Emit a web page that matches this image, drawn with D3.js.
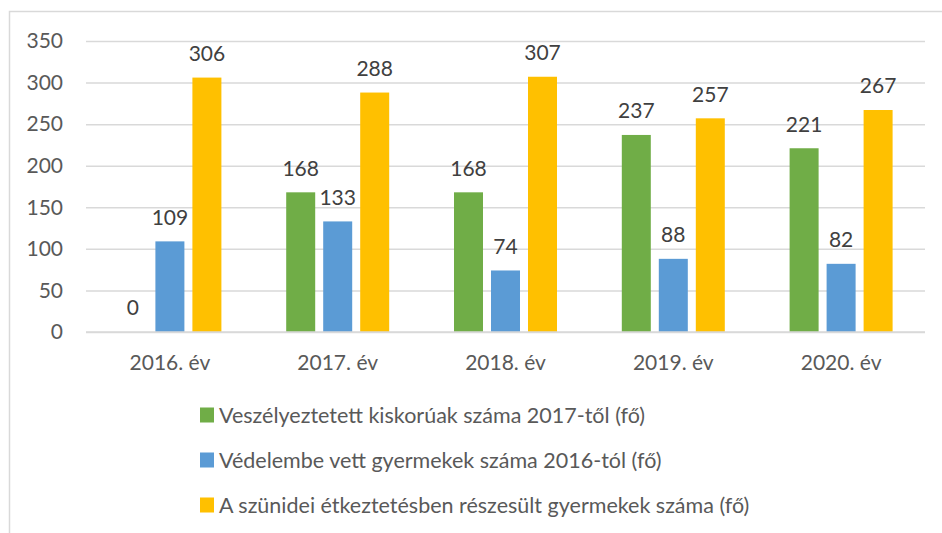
<!DOCTYPE html>
<html>
<head>
<meta charset="utf-8">
<script src="https://cdn.jsdelivr.net/npm/d3@7"></script>
<style>
  html, body { margin: 0; padding: 0; background: #fff; }
  svg { display: block; font-family: Lato, "Open Sans", sans-serif; }
</style>
</head>
<body>
<svg id="chart" width="942" height="533"></svg>
<script>
// Évek (kategóriák)
const categories = ["2016. év", "2017. év", "2018. év", "2019. év", "2020. év"];

// Adatsorok
const seriesNames = [
  "Veszélyeztetett kiskorúak száma 2017-től (fő)",
  "Védelembe vett gyermekek száma 2016-tól (fő)",
  "A szünidei étkeztetésben részesült gyermekek száma (fő)"
];
const veszelyeztetett = [0, 168, 168, 237, 221];
const vedelembe = [109, 133, 74, 88, 82];
const szunidei = [306, 288, 307, 257, 267];
const seriesColors = ["#70ad47", "#5b9bd5", "#ffc000"];

const yTicks = [0, 50, 100, 150, 200, 250, 300, 350];

const seriesValues = [veszelyeztetett, vedelembe, szunidei];

const svg = d3.select("#chart");

// Diagram kerete
svg.append("rect")
  .attr("x", 9.5).attr("y", 11.5)
  .attr("width", 960).attr("height", 560)
  .attr("fill", "none")
  .attr("stroke", "#d9d9d9")
  .attr("stroke-width", 1.5);

const plot = { left: 86, right: 925, top: 41, bottom: 332 };

const x0 = d3.scaleBand()
  .domain(categories)
  .range([plot.left, plot.right])
  .paddingInner(0).paddingOuter(0);

const bw = x0.bandwidth();
const groupW = 103;
const x1 = d3.scaleBand()
  .domain(d3.range(seriesValues.length))
  .range([(bw - groupW) / 2, (bw + groupW) / 2])
  .paddingInner(8 / 37)
  .paddingOuter(0);

const y = d3.scaleLinear()
  .domain([0, 350])
  .range([plot.bottom, plot.top]);

// Rácsvonalak és y tengely feliratai
const yAxis = d3.axisLeft(y)
  .tickValues(yTicks)
  .tickSize(-(plot.right - plot.left))
  .tickPadding(23)
  .tickFormat(d3.format("d"));

const gy = svg.append("g")
  .attr("transform", `translate(${plot.left},0)`)
  .call(yAxis);
gy.select(".domain").remove();
gy.selectAll(".tick line")
  .attr("stroke", "#d9d9d9")
  .attr("stroke-width", 1.5);
gy.selectAll(".tick text")
  .attr("fill", "#595959")
  .style("font-size", "21px")
  .style("font-family", "Lato, 'Open Sans', sans-serif");

// Oszlopok
const groups = svg.append("g").selectAll("g")
  .data(categories)
  .join("g")
  .attr("transform", d => `translate(${x0(d)},0)`);

groups.selectAll("rect")
  .data((c, i) => seriesValues.map((vals, s) => ({ s, v: vals[i] })))
  .join("rect")
  .attr("x", d => x1(d.s))
  .attr("width", x1.bandwidth())
  .attr("y", d => y(d.v))
  .attr("height", d => y(0) - y(d.v))
  .attr("fill", d => seriesColors[d.s]);

// Adatfeliratok
groups.selectAll("text.val")
  .data((c, i) => seriesValues.map((vals, s) => ({ s, v: vals[i] })))
  .join("text")
  .attr("class", "val")
  .attr("x", d => x1(d.s) + x1.bandwidth() / 2)
  .attr("y", d => y(d.v) - 24)
  .attr("dy", "0.35em")
  .attr("text-anchor", "middle")
  .attr("fill", "#404040")
  .style("font-size", "21px")
  .text(d => d.v);

// Alapvonal
svg.append("line")
  .attr("x1", plot.left).attr("x2", plot.right)
  .attr("y1", y(0)).attr("y2", y(0))
  .attr("stroke", "#d9d9d9")
  .attr("stroke-width", 1.5);

// Kategóriafeliratok
const xAxis = d3.axisBottom(x0).tickSize(0).tickPadding(0);
const gx = svg.append("g")
  .attr("transform", `translate(0,${plot.bottom})`)
  .call(xAxis);
gx.select(".domain").remove();
gx.selectAll(".tick text")
  .attr("y", 31)
  .attr("dy", "0.35em")
  .attr("fill", "#595959")
  .style("font-size", "21px")
  .style("font-family", "Lato, 'Open Sans', sans-serif");

// Jelmagyarázat
const legend = svg.append("g").selectAll("g")
  .data(seriesNames)
  .join("g")
  .attr("transform", (d, i) => `translate(200,${415 + i * 45})`);

legend.append("rect")
  .attr("x", 0).attr("y", -7.5)
  .attr("width", 14).attr("height", 15)
  .attr("fill", (d, i) => seriesColors[i]);

legend.append("text")
  .attr("x", 19)
  .attr("y", 0)
  .attr("dy", "0.35em")
  .attr("fill", "#595959")
  .style("font-size", "21.5px")
  .text(d => d);
</script>
</body>
</html>
